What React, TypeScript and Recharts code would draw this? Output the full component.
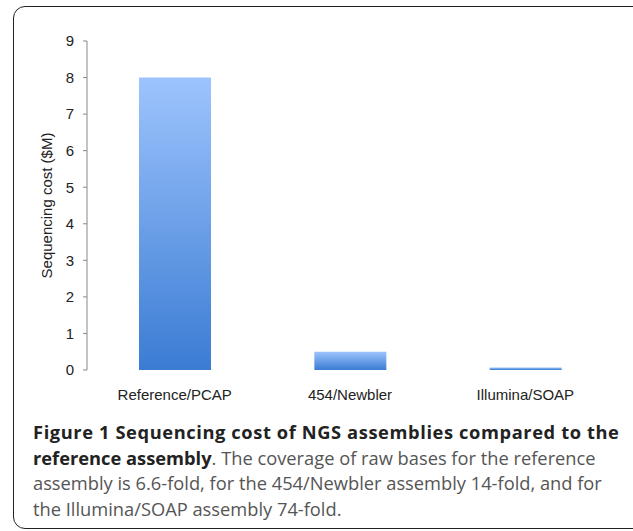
import { Bar, BarChart, XAxis, YAxis } from "recharts";

const categories = ["Reference/PCAP", "454/Newbler", "Illumina/SOAP"];
const costs = [8, 0.5, 0.07];
const yTicks = [0, 1, 2, 3, 4, 5, 6, 7, 8, 9];
const boundaryTicks = [0, 1, 2, 3];

const data = categories.map((name, i) => ({ name, cost: costs[i] }));

const tickFont = { fill: "#222", fontSize: 15, fontFamily: "Liberation Sans, Arial, sans-serif" };

export default function App() {
  return (
    <div
      style={{
        position: "absolute",
        left: 0,
        top: 0,
        width: 633,
        height: 531,
        overflow: "hidden",
        background: "#fff",
      }}
    >
      <div
        style={{
          position: "absolute",
          left: 13,
          top: 6,
          width: 660,
          height: 521,
          border: "1.5px solid #222",
          borderRadius: 12,
        }}
      />
      <div style={{ position: "absolute", left: 0, top: 0 }}>
        <BarChart
          width={633}
          height={420}
          data={data}
          margin={{ top: 41, right: 20, bottom: 0, left: 0 }}
        >
          <defs>
            <linearGradient id="barFill" x1="0" y1="0" x2="0" y2="1">
              <stop offset="0%" stopColor="#9dc4fd" />
              <stop offset="100%" stopColor="#3b7cd3" />
            </linearGradient>
          </defs>
          <XAxis
            xAxisId="edges"
            type="number"
            domain={[0, 3]}
            ticks={boundaryTicks}
            tick={false}
            height={0}
            tickSize={5}
            stroke="#888"
            allowDataOverflow
          />
          <XAxis
            xAxisId="cat"
            dataKey="name"
            axisLine={false}
            tickLine={false}
            tick={tickFont}
            tickMargin={13}
            height={50}
          />
          <YAxis
            domain={[0, 9]}
            ticks={yTicks}
            interval={0}
            width={87}
            tickSize={4}
            tickMargin={9}
            stroke="#888"
            tick={tickFont}
            label={{
              value: "Sequencing cost ($M)",
              angle: -90,
              position: "insideLeft",
              offset: 47,
              style: { ...tickFont, textAnchor: "middle" },
            }}
          />
          <Bar
            xAxisId="cat"
            dataKey="cost"
            barSize={72}
            fill="url(#barFill)"
            isAnimationActive={false}
          />
        </BarChart>
      </div>
      <div
        style={{
          position: "absolute",
          left: 33,
          top: 419,
          fontFamily: "'Open Sans', sans-serif",
          fontSize: 18.3,
          lineHeight: "25.5px",
          color: "#555",
          whiteSpace: "nowrap",
        }}
      >
        <div style={{ fontWeight: 700, color: "#222", letterSpacing: 0.6 }}>
          Figure 1 Sequencing cost of NGS assemblies compared to the
        </div>
        <div>
          <b style={{ color: "#222" }}>reference assembly</b>. The coverage of raw bases for the reference
        </div>
        <div>assembly is 6.6-fold, for the 454/Newbler assembly 14-fold, and for</div>
        <div>the Illumina/SOAP assembly 74-fold.</div>
      </div>
    </div>
  );
}
